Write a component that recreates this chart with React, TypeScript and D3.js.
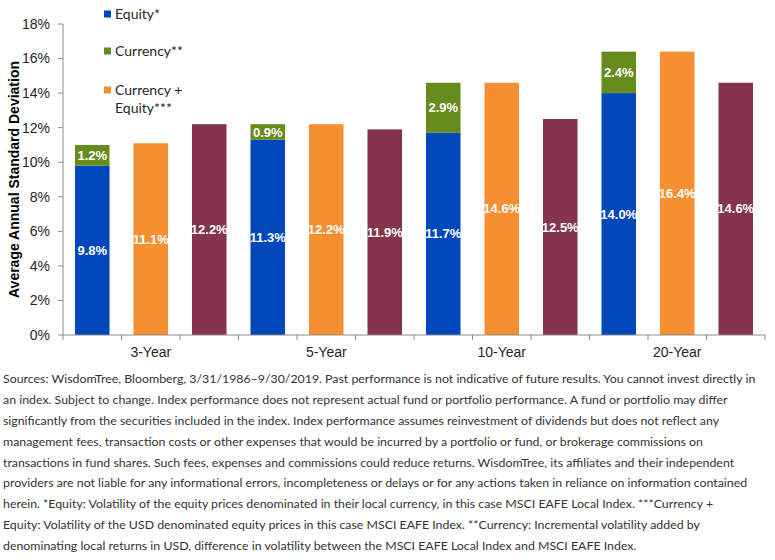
import React from 'react';
import * as d3 from 'd3';

// horizons shown on the category axis
const horizons = ['3-Year', '5-Year', '10-Year', '20-Year'];

// average annual standard deviation (%), one value per horizon
const equityVol = [9.8, 11.3, 11.7, 14.0];
const currencyVol = [1.2, 0.9, 2.9, 2.4];
const currencyEquityVol = [11.1, 12.2, 14.6, 16.4];
const fourthVol = [12.2, 11.9, 12.5, 14.6];

const yTicks = [0, 2, 4, 6, 8, 10, 12, 14, 16, 18];

const legendItems = [
  { key: 'equity', lines: ['Equity*'] },
  { key: 'currency', lines: ['Currency**'] },
  { key: 'currencyEquity', lines: ['Currency +', 'Equity***'] },
];

const footnoteLines = [
  'Sources: WisdomTree, Bloomberg, 3/31/1986–9/30/2019. Past performance is not indicative of future results. You cannot invest directly in',
  'an index. Subject to change. Index performance does not represent actual fund or portfolio performance. A fund or portfolio may differ',
  'significantly from the securities included in the index. Index performance assumes reinvestment of dividends but does not reflect any',
  'management fees, transaction costs or other expenses that would be incurred by a portfolio or fund, or brokerage commissions on',
  'transactions in fund shares. Such fees, expenses and commissions could reduce returns. WisdomTree, its affiliates and their independent',
  'providers are not liable for any informational errors, incompleteness or delays or for any actions taken in reliance on information contained',
  'herein. *Equity: Volatility of the equity prices denominated in their local currency, in this case MSCI EAFE Local Index. ***Currency +',
  'Equity: Volatility of the USD denominated equity prices in this case MSCI EAFE Index. **Currency: Incremental volatility added by',
  'denominating local returns in USD, difference in volatility between the MSCI EAFE Local Index and MSCI EAFE Index.',
];

const colors: Record<string, string> = {
  equity: '#0047BB',
  currency: '#678C1E',
  currencyEquity: '#F58F31',
  fourth: '#84344D',
};

const W = 775;
const H = 560;
const margin = { top: 24, left: 63, right: 10, bottom: 225 };
const axisFont = '"Liberation Sans", Arial, sans-serif';
const textFont = 'Lato, "Open Sans", sans-serif';

type Seg = { key: string; y0: number; y1: number };

export default function App() {
  // one slot per bar: stacked equity+currency, currency+equity, fourth series
  const slots = horizons.flatMap((h) => [`${h}|a`, `${h}|b`, `${h}|c`]);
  const x = d3
    .scaleBand<string>()
    .domain(slots)
    .range([margin.left, W - margin.right])
    .paddingInner(0.41)
    .paddingOuter(0.205);
  const y = d3.scaleLinear().domain([0, 18]).range([H - margin.bottom, margin.top]);
  const step = x.step();
  const x0 = margin.left;
  const axisY = y(0);

  const bars: { slot: string; segs: Seg[] }[] = [];
  horizons.forEach((h, i) => {
    bars.push({
      slot: `${h}|a`,
      segs: [
        { key: 'equity', y0: 0, y1: equityVol[i] },
        { key: 'currency', y0: equityVol[i], y1: equityVol[i] + currencyVol[i] },
      ],
    });
    bars.push({ slot: `${h}|b`, segs: [{ key: 'currencyEquity', y0: 0, y1: currencyEquityVol[i] }] });
    bars.push({ slot: `${h}|c`, segs: [{ key: 'fourth', y0: 0, y1: fourthVol[i] }] });
  });

  return (
    <svg
      width={W}
      height={H}
      style={{ position: 'absolute', left: 0, top: 0, background: '#fff' }}
    >
      {/* bars with centred value labels */}
      {bars.map((b) =>
        b.segs.map((s) => (
          <g key={`${b.slot}-${s.key}`}>
            <rect
              x={x(b.slot)}
              y={y(s.y1)}
              width={x.bandwidth()}
              height={y(s.y0) - y(s.y1)}
              fill={colors[s.key]}
            />
            <text
              x={x(b.slot)! + x.bandwidth() / 2}
              y={(y(s.y0) + y(s.y1)) / 2}
              dy="0.35em"
              textAnchor="middle"
              fill="#fff"
              fontFamily={axisFont}
              fontWeight="bold"
              fontSize={13}
            >
              {`${(s.y1 - s.y0).toFixed(1)}%`}
            </text>
          </g>
        ))
      )}

      {/* y axis */}
      <line x1={x0} x2={x0} y1={y(18)} y2={axisY} stroke="#8c8c8c" strokeWidth={1} />
      {yTicks.map((t) => (
        <g key={t}>
          <line x1={x0 - 5} x2={x0} y1={y(t)} y2={y(t)} stroke="#8c8c8c" />
          <text
            x={x0 - 13}
            y={y(t)}
            dy="0.35em"
            textAnchor="end"
            fontFamily={axisFont}
            fontSize={14}
            fill="#262626"
          >
            {`${t}%`}
          </text>
        </g>
      ))}
      <text
        transform={`translate(19,${(y(18) + axisY) / 2}) rotate(-90)`}
        textAnchor="middle"
        fontFamily={axisFont}
        fontWeight="bold"
        fontSize={14}
        fill="#000"
      >
        Average Annual Standard Deviation
      </text>

      {/* x axis with a tick between every bar */}
      <line x1={x0} x2={W - margin.right} y1={axisY} y2={axisY} stroke="#8c8c8c" />
      {d3.range(slots.length + 1).map((i) => (
        <line
          key={i}
          x1={x0 + i * step}
          x2={x0 + i * step}
          y1={axisY}
          y2={axisY + 5}
          stroke="#8c8c8c"
        />
      ))}
      {horizons.map((h, i) => (
        <text
          key={h}
          x={x0 + (i * 3 + 1.5) * step}
          y={axisY + 22}
          textAnchor="middle"
          fontFamily={axisFont}
          fontSize={14}
          fill="#262626"
        >
          {h}
        </text>
      ))}

      {/* legend */}
      {legendItems.map((item, i) => {
        const ly = [14, 51, 90][i];
        return (
          <g key={item.key}>
            <rect x={104} y={ly - 3.5} width={7} height={7} fill={colors[item.key]} />
            {item.lines.map((ln, j) => (
              <text
                key={ln}
                x={115}
                y={ly + j * 18}
                dy="0.35em"
                fontFamily={textFont}
                fontSize={14}
                fill="#262626"
              >
                {ln}
              </text>
            ))}
          </g>
        );
      })}

      {/* source notes */}
      {footnoteLines.map((ln, i) => (
        <text
          key={i}
          x={3}
          y={379 + i * 20.8}
          dy="0.35em"
          fontFamily={textFont}
          fontSize={12.35}
          fill="#333"
        >
          {ln}
        </text>
      ))}
    </svg>
  );
}
